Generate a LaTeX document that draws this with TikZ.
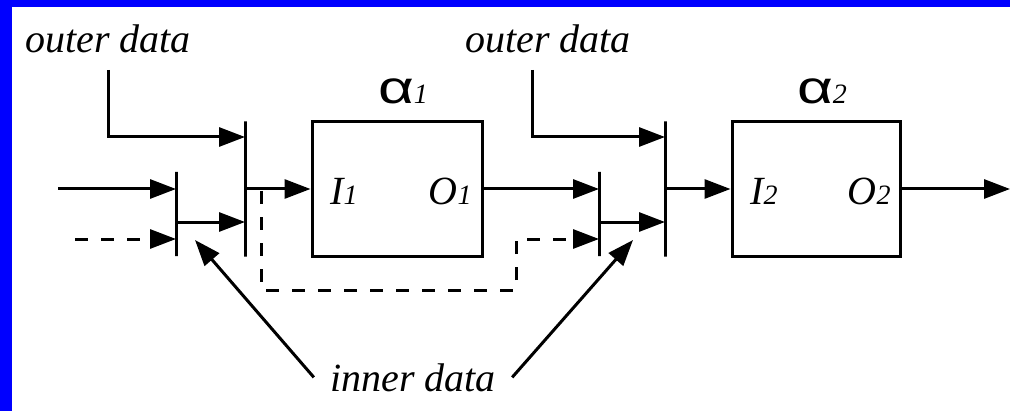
\documentclass[tikz,border=0pt]{standalone}
\usepackage{fontspec}
\setmainfont{Liberation Serif}
\newfontfamily\greekfont[FakeStretch=1.35]{Liberation Sans}
\usetikzlibrary{arrows.meta,positioning}
\tikzset{
  flow/.style={line width=1.5pt,-{Triangle[length=13pt,width=9.5pt]}},
  dashline/.style={dash pattern=on 6.5pt off 6.5pt},
  bar/.style={draw,line width=1.5pt,minimum width=0pt,inner sep=0pt},
  blockbox/.style={draw,line width=1.5pt,minimum width=85pt,minimum height=67.5pt,inner sep=0pt},
  lab/.style={font=\fontsize{20}{24}\selectfont\itshape,inner sep=0pt},
  datalab/.style={font=\fontsize{20}{24}\selectfont\itshape,inner sep=8pt},
  greeklab/.style={font=\greekfont\fontsize{23}{26}\selectfont,inner sep=0pt}
}
\newcommand{\smallidx}[1]{{\fontsize{14}{16}\selectfont\rmfamily\itshape #1}}
\begin{document}
\begin{tikzpicture}[x=0.5pt,y=-0.5pt]
  % 边框
  \useasboundingbox (0,0) rectangle (1010,411);
  \fill[blue] (0,0) rectangle (1010,7);
  \fill[blue] (0,0) rectangle (12,411);
  % 方框
  \node[blockbox] (box1) at (397,189) {};
  \node[blockbox,minimum width=84pt] (box2) at (816,189) {};
  \node[greeklab,above=8pt of box1,xshift=3pt] (a1) {α\smallidx{1}};
  \node[greeklab,above=8pt of box2,xshift=3pt] (a2) {α\smallidx{2}};
  \node[lab,anchor=base west] (i1) at (330,205) {I\smallidx{1}};
  \node[lab,anchor=base east] (o1) at (472,205) {O\smallidx{1}};
  \node[lab,anchor=base west] (i2) at (750,205) {I\smallidx{2}};
  \node[lab,anchor=base east] (o2) at (891,205) {O\smallidx{2}};
  % 竖线
  \node[bar,minimum height=42pt] (barA) at (176,214) {};
  \node[bar,minimum height=67.5pt] (barB) at (245,189) {};
  \node[bar,minimum height=42pt] (barC) at (599,214) {};
  \node[bar,minimum height=67.5pt] (barD) at (665,189) {};
  % 辅助点
  \coordinate (in1) at (58,189);
  \coordinate (in2) at (75,239);
  \coordinate (mA) at (176,222);
  \coordinate (mC) at (599,222);
  \coordinate (k1) at (108,137);
  \coordinate (k2) at (532,137);
  \coordinate (fb) at (261,191);
  \coordinate (fb2) at (516,290);
  \coordinate (fb3) at (516,239);
  \coordinate (out) at (1010,189);
  \coordinate (ta) at (195,240);
  \coordinate (tc) at (633,240);
  % 主线
  \draw[flow] (in1) -- (in1 -| barA);
  \draw[flow,dashline] (in2) -- (in2 -| barA);
  \draw[flow] (mA) -- (mA -| barB);
  \draw[flow] (barB) -- (box1);
  \draw[flow] (box1.east) -- (box1.east -| barC);
  \draw[flow] (mC) -- (mC -| barD);
  \draw[flow] (barD) -- (box2);
  \draw[flow] (box2) -- (out);
  % 外部数据
  \node[datalab,anchor=base] (od1) at (108,53) {outer data};
  \node[datalab,anchor=base] (od2) at (548,53) {outer data};
  \draw[flow] (k1 |- od1.south) -- (k1) -- (k1 -| barB);
  \draw[flow] (k2 |- od2.south) -- (k2) -- (k2 -| barD);
  % 反馈虚线
  \draw[flow,dashline] (fb) |- (fb2) -- (fb3) -- (fb3 -| barC);
  % 内部数据
  \node[datalab,anchor=base] (inner) at (413,391) {inner data};
  \draw[flow] (inner.west) -- (ta);
  \draw[flow] (inner.east) -- (tc);
\end{tikzpicture}
\end{document}
